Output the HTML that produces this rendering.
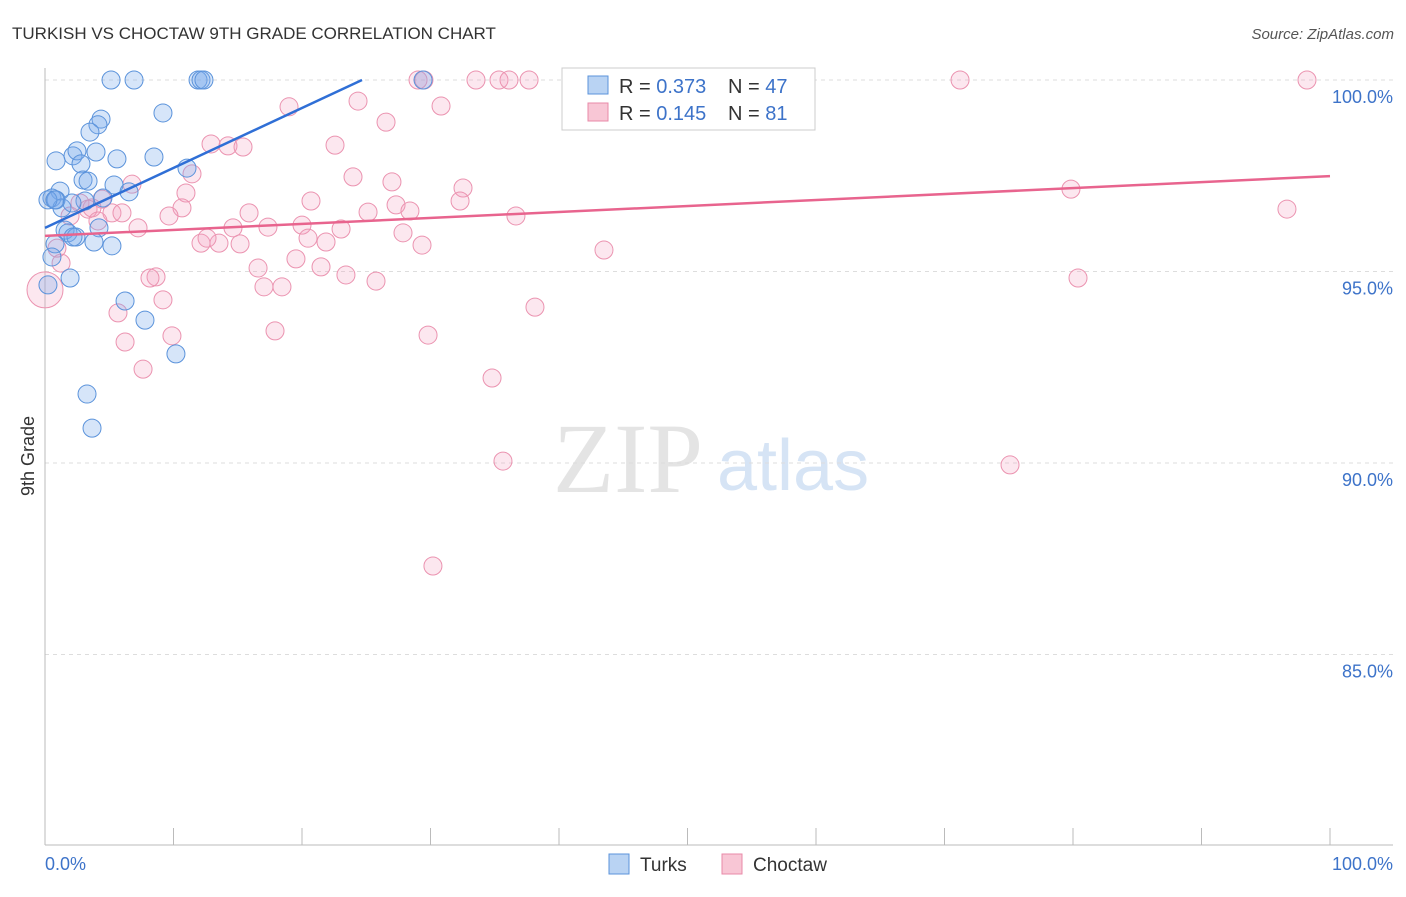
<!DOCTYPE html>
<html><head><meta charset="utf-8"><style>
body{margin:0;background:#fff;font-family:"Liberation Sans",sans-serif;}
svg text{font-family:"Liberation Sans",sans-serif;}
</style></head><body>
<svg id="chart" width="1406" height="892" viewBox="0 0 1406 892">
<text x="12" y="39" font-size="17" fill="#333">TURKISH VS CHOCTAW 9TH GRADE CORRELATION CHART</text>
<text x="1394" y="39" font-size="15" fill="#555" font-style="italic" text-anchor="end">Source: ZipAtlas.com</text>
<text x="553" y="492" font-size="100" fill="#e4e4e4" style="font-family:'Liberation Serif',serif">ZIP</text>
<text x="717" y="490" font-size="72" fill="#d6e4f5">atlas</text>
<g id="grid"></g>
<line x1="45" y1="68" x2="45" y2="845" stroke="#bbb"/>
<line x1="45" y1="845" x2="1393" y2="845" stroke="#bbb"/>
<g id="xticks"></g>
<g id="ylabels"></g>
<text x="45" y="870" font-size="18" fill="#3d73c9">0.0%</text>
<text x="1393" y="870" font-size="18" fill="#3d73c9" text-anchor="end">100.0%</text>
<text transform="translate(34,456) rotate(-90)" font-size="18" fill="#333" text-anchor="middle">9th Grade</text>
<g id="pinkpts"></g>
<g id="bluepts"></g>
<g id="trends"></g>
<g>
<rect x="562" y="68" width="253" height="62" fill="#fff" stroke="#ccc"/>
<rect x="588" y="76" width="20" height="18" fill="#b9d3f3" stroke="#5b93db"/>
<rect x="588" y="103" width="20" height="18" fill="#f8c6d5" stroke="#e88aa8"/>
<text x="619" y="93" font-size="20" fill="#333">R = <tspan fill="#3d73c9">0.373</tspan></text>
<text x="728" y="93" font-size="20" fill="#333">N = <tspan fill="#3d73c9">47</tspan></text>
<text x="619" y="120" font-size="20" fill="#333">R = <tspan fill="#3d73c9">0.145</tspan></text>
<text x="728" y="120" font-size="20" fill="#333">N = <tspan fill="#3d73c9">81</tspan></text>
</g>
<g>
<rect x="609" y="854" width="20" height="20" fill="#b9d3f3" stroke="#5b93db"/>
<text x="640" y="871" font-size="19" fill="#333">Turks</text>
<rect x="722" y="854" width="20" height="20" fill="#f8c6d5" stroke="#e88aa8"/>
<text x="753" y="871" font-size="19" fill="#333">Choctaw</text>
</g>
</svg>
<script>
const yTicks=[100,95,90,85];
const yTickLabels=["100.0%","95.0%","90.0%","85.0%"];
const turksX=[5.14,6.93,11.91,12.14,12.37,29.42,9.18,4.36,4.12,3.50,3.97,2.18,2.49,5.60,8.48,0.86,2.80,11.05,2.96,3.35,5.37,6.54,1.17,0.54,0.86,4.51,1.32,3.11,2.10,0.23,1.56,1.79,2.41,2.18,4.20,3.81,5.21,0.78,0.54,1.95,6.23,7.78,10.19,3.27,3.66,0.23,0.78];
const turksY=[100,100,100,100,100,100,99.14,98.98,98.83,98.64,98.12,98.02,98.15,97.94,97.99,97.89,97.81,97.70,97.39,97.36,97.26,97.08,97.10,96.92,96.87,96.92,96.66,96.84,96.79,96.87,96.08,96.01,95.90,95.90,96.14,95.77,95.67,95.72,95.38,94.83,94.23,93.73,92.85,91.80,90.91,94.65,96.87];
const choctawX=[0,98.21,71.21,29.03,33.54,35.33,36.11,37.67,29.49,24.36,18.99,30.82,26.54,22.57,12.92,14.24,15.41,27.00,23.97,32.53,11.44,10.97,6.77,79.84,96.65,32.30,27.32,28.40,20.70,15.88,10.66,9.65,5.21,2.72,4.44,3.66,7.24,17.35,20.00,14.63,23.04,27.86,36.65,25.14,20.47,21.87,15.18,13.54,12.14,12.61,29.34,43.50,19.53,16.58,21.48,23.42,25.76,17.04,18.44,8.64,8.17,9.18,80.39,38.13,5.68,9.88,17.90,29.81,6.23,7.63,34.79,35.64,75.10,30.19,1.25,1.95,3.35,0.93,5.99,4.12];
const choctawY=[94.52,100,100,100,100,100,100,100,100,99.45,99.30,99.32,98.90,98.30,98.33,98.28,98.25,97.34,97.47,97.18,97.55,97.05,97.28,97.15,96.63,96.84,96.74,96.58,96.84,96.53,96.66,96.45,96.53,96.79,96.89,96.66,96.14,96.16,96.21,96.14,96.11,96.01,96.45,96.55,95.87,95.77,95.72,95.74,95.74,95.87,95.69,95.56,95.33,95.09,95.12,94.91,94.75,94.60,94.60,94.86,94.83,94.26,94.83,94.07,93.92,93.32,93.45,93.34,93.16,92.45,92.22,90.05,89.95,87.31,95.22,96.45,96.63,95.61,96.53,96.32];
const turksTrend=[[0,96.14],[24.67,100]];
const choctawTrend=[[0,95.93],[100,97.49]];
const NS='http://www.w3.org/2000/svg';
const sx=v=>45+v*12.85;
const sy=v=>80+(100-v)*38.3;
function mk(tag,attrs,parent){const e=document.createElementNS(NS,tag);for(const k in attrs)e.setAttribute(k,attrs[k]);parent.appendChild(e);return e;}
const grid=document.getElementById('grid'),yl=document.getElementById('ylabels');
yTicks.forEach((t,i)=>{
 const l=mk('line',{x1:45,x2:1393,y1:sy(t),y2:sy(t),stroke:'#ddd','stroke-dasharray':'4,4'},grid);
 
 
 const tx=mk('text',{x:1393,y:sy(t)+23,'font-size':18,fill:'#3d73c9','text-anchor':'end'},yl);
 tx.textContent=yTickLabels[i];
 
 
});
const xt=document.getElementById('xticks');
for(let k=0;k<=10;k++){
 const l=mk('line',{x1:sx(k*10),x2:sx(k*10),y1:828,y2:845,stroke:'#bbb'},xt);
 
 
}
const pp=document.getElementById('pinkpts');
choctawX.forEach((x,i)=>{
 const c=mk('circle',{cx:sx(x),cy:sy(choctawY[i]),r:i===0?18:9,fill:'rgba(244,160,190,0.25)',stroke:'#eb93b0','stroke-width':1},pp);
 
 
});
const bp=document.getElementById('bluepts');
turksX.forEach((x,i)=>{
 const c=mk('circle',{cx:sx(x),cy:sy(turksY[i]),r:9,fill:'rgba(120,170,235,0.3)',stroke:'#5b93db','stroke-width':1},bp);
 
 
});
const tr=document.getElementById('trends');
const bl=mk('line',{x1:sx(turksTrend[0][0]),y1:sy(turksTrend[0][1]),x2:sx(turksTrend[1][0]),y2:sy(turksTrend[1][1]),stroke:'#2f6fd6','stroke-width':2.5},tr);


const pl=mk('line',{x1:sx(choctawTrend[0][0]),y1:sy(choctawTrend[0][1]),x2:sx(choctawTrend[1][0]),y2:sy(choctawTrend[1][1]),stroke:'#e8648e','stroke-width':2.5},tr);


</script>
</body></html>
